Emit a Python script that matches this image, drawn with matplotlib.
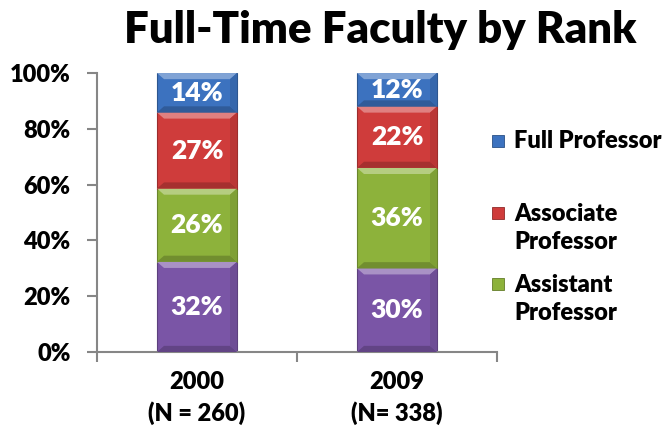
import matplotlib.pyplot as plt
from matplotlib.patches import Rectangle, Polygon
import numpy as np

plt.rcParams['font.family'] = ['Lato', 'DejaVu Sans']
plt.rcParams['font.weight'] = 'heavy'

years = ["2000\n(N = 260)", "2009\n(N= 338)"]
ranks = ["Other", "Assistant Professor", "Associate Professor", "Full Professor"]
other = [32, 30]
assistant = [26, 36]
associate = [27, 22]
full = [14, 12]
colors = ['#7A55A6', '#8DB23B', '#CF3C3B', '#3C72BF']
legend_labels = ["Full Professor", "Associate\nProfessor", "Assistant\nProfessor"]

series = np.array([other, assistant, associate, full], dtype=float)
pct = series / series.sum(axis=0) * 100

fig = plt.figure(figsize=(6.7, 4.29), dpi=100)
ax = fig.add_axes([0.1448, 0.1795, 0.597, 0.6503])

x = np.arange(len(years))
w = 0.4
bottom = np.zeros(len(years))


def lighten(c, f):
    c = np.array(plt.matplotlib.colors.to_rgb(c))
    return tuple(c + (1 - c) * f)


def darken(c, f):
    c = np.array(plt.matplotlib.colors.to_rgb(c))
    return tuple(c * (1 - f))


for i in range(len(ranks)):
    ax.bar(x, pct[i], w, bottom=bottom, color=colors[i], edgecolor=darken(colors[i], 0.25),
           linewidth=0.8, zorder=2)
    # bevel: light top band, dark bottom band
    dx, dy = 0.035, 2.2
    for j in range(len(years)):
        x0, x1 = x[j] - w / 2, x[j] + w / 2
        y0, y1 = bottom[j], bottom[j] + pct[i][j]
        ax.add_patch(Polygon([(x0, y1), (x1, y1), (x1 - dx, y1 - dy), (x0 + dx, y1 - dy)],
                             closed=True, color=lighten(colors[i], 0.35), lw=0, zorder=3))
        ax.add_patch(Polygon([(x0, y0), (x1, y0), (x1 - dx, y0 + dy), (x0 + dx, y0 + dy)],
                             closed=True, color=darken(colors[i], 0.2), lw=0, zorder=3))
        ax.add_patch(Polygon([(x1, y0), (x1, y1), (x1 - dx, y1 - dy), (x1 - dx, y0 + dy)],
                             closed=True, color=darken(colors[i], 0.1), lw=0, zorder=3))
        ax.text(x[j], y0 + pct[i][j] / 2, "%d%%" % series[i][j], ha='center', va='center',
                color='white', fontsize=19, zorder=4)
    bottom += pct[i]

ax.set_xlim(-0.5, 1.5)
ax.set_ylim(0, 100)
ax.set_yticks(np.arange(0, 101, 20))
ax.set_yticklabels(["%d%%" % v for v in range(0, 101, 20)], fontsize=17)
ax.set_xticks(x)
ax.set_xticklabels(years, fontsize=17, linespacing=1.4)
ax.set_xticks([-0.5, 0.5, 1.5], minor=True)
ax.tick_params(axis='x', which='major', length=0, pad=14)
ax.tick_params(axis='x', which='minor', length=7, color='#868686', width=1.5)
ax.tick_params(axis='y', length=7, color='#868686', width=1.5, pad=12)
for s in ['top', 'right']:
    ax.spines[s].set_visible(False)
for s in ['left', 'bottom']:
    ax.spines[s].set_color('#868686')
    ax.spines[s].set_linewidth(1.5)

fig.text(0.567, 0.93, "Full-Time Faculty by Rank", ha='center', va='center',
         fontsize=31.5)

# legend
leg_y = [141, 228, 299]
leg_colors = [colors[3], colors[2], colors[1]]
for lab, yy, c in zip(legend_labels, leg_y, leg_colors):
    fy = 1 - yy / 429
    ny = lab.count("\n")
    top_line = fy + ny * 15 / 429
    fig.patches.append(Rectangle((492 / 670, top_line - 6 / 429), 12 / 670, 12 / 429,
                                 transform=fig.transFigure, facecolor=c,
                                 edgecolor=darken(c, 0.3), lw=0.6, figure=fig))
    fig.text(514 / 670, fy, lab, ha='left', va='center', fontsize=17,
             linespacing=1.35)

fig.savefig("out.png", dpi=100)
